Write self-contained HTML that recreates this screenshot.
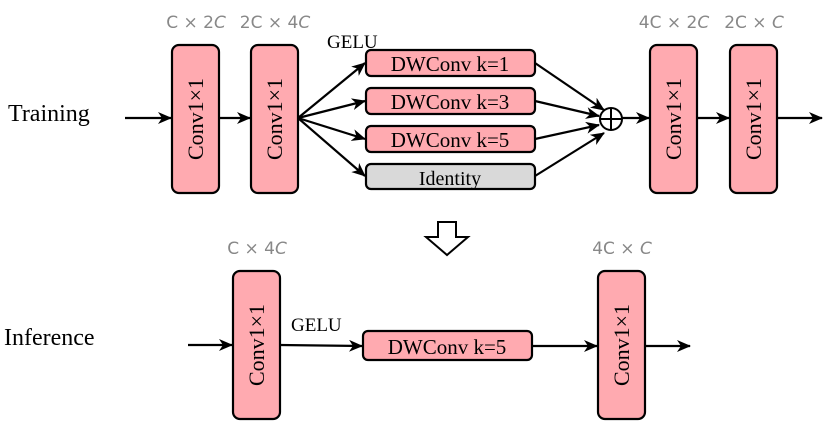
<!DOCTYPE html>
<html><head><meta charset="utf-8"><style>body{margin:0;background:#fff}</style></head><body>
<svg width="829" height="429" xmlns="http://www.w3.org/2000/svg" font-family="Liberation Serif, serif">
<defs><marker id="a" markerWidth="14" markerHeight="12" refX="13" refY="6" orient="auto" markerUnits="userSpaceOnUse"><path d="M0,0 L14,6 L0,12 L4,6 Z" fill="#000"/></marker></defs>
<g stroke="#000" stroke-width="2.2" fill="none" marker-end="url(#a)">
<line x1="125" y1="118" x2="171" y2="118"/>
<line x1="219" y1="118" x2="250" y2="118"/>
<line x1="298" y1="118" x2="365" y2="63"/>
<line x1="298" y1="118" x2="365" y2="101"/>
<line x1="298" y1="118" x2="365" y2="139"/>
<line x1="298" y1="118" x2="365" y2="176"/>
<line x1="535" y1="63" x2="604" y2="110"/>
<line x1="535" y1="101" x2="599" y2="116"/>
<line x1="535" y1="139" x2="599" y2="125"/>
<line x1="535" y1="176" x2="604" y2="133"/>
<line x1="622" y1="118" x2="649" y2="118"/>
<line x1="697" y1="118" x2="729" y2="118"/>
<line x1="777" y1="118" x2="822" y2="118"/>
<line x1="188" y1="345" x2="232" y2="345"/>
<line x1="280" y1="345" x2="362" y2="346"/>
<line x1="532" y1="346" x2="597" y2="346"/>
<line x1="645" y1="346" x2="690" y2="346"/>
</g>
<circle cx="611" cy="119" r="11" fill="#fff" stroke="#000" stroke-width="2"/>
<path d="M600,119 H622 M611,108 V130" stroke="#000" stroke-width="2"/>
<g fill="#ffaab0" stroke="#000" stroke-width="2.2">
<rect x="172" y="45" width="47" height="148" rx="7"/>
<rect x="251" y="45" width="47" height="148" rx="7"/>
<rect x="650" y="45" width="47" height="148" rx="7"/>
<rect x="730" y="45" width="47" height="148" rx="7"/>
<rect x="233" y="271" width="47" height="148" rx="7"/>
<rect x="598" y="271" width="47" height="148" rx="7"/>
<rect x="366" y="50" width="169" height="26" rx="5"/>
<rect x="366" y="88" width="169" height="26" rx="5"/>
<rect x="366" y="126" width="169" height="26" rx="5"/>
<rect x="363" y="331" width="169" height="29" rx="5"/>
</g>
<rect x="366" y="164" width="169" height="25" rx="5" fill="#d9d9d9" stroke="#000" stroke-width="2.2"/>
<path d="M438,222 H456 V237 H468 L447,255 L426,237 H438 Z" fill="#fff" stroke="#000" stroke-width="2"/>
<g font-size="21" text-anchor="middle">
<text x="450" y="71">DWConv k=1</text>
<text x="450" y="109">DWConv k=3</text>
<text x="450" y="147">DWConv k=5</text>
<text x="447" y="354">DWConv k=5</text>
<text x="450" y="185" font-size="20">Identity</text>
</g>
<g font-size="22" text-anchor="middle">
<text transform="translate(203,119) rotate(-90)">Conv1×1</text>
<text transform="translate(282,119) rotate(-90)">Conv1×1</text>
<text transform="translate(681,119) rotate(-90)">Conv1×1</text>
<text transform="translate(761,119) rotate(-90)">Conv1×1</text>
<text transform="translate(264,345) rotate(-90)">Conv1×1</text>
<text transform="translate(629,345) rotate(-90)">Conv1×1</text>
</g>
<g font-size="19">
<text x="327" y="48">GELU</text>
<text x="291" y="331">GELU</text>
</g>
<g font-size="24">
<text x="8" y="121">Training</text>
<text x="4" y="345">Inference</text>
</g>
<g font-size="17" fill="#888" text-anchor="middle" font-family="DejaVu Sans, sans-serif">
<text x="196" y="28">C × 2<tspan font-style="italic">C</tspan></text>
<text x="275" y="28">2C × 4<tspan font-style="italic">C</tspan></text>
<text x="674" y="28">4C × 2<tspan font-style="italic">C</tspan></text>
<text x="754" y="28">2C × <tspan font-style="italic">C</tspan></text>
<text x="257" y="254">C × 4<tspan font-style="italic">C</tspan></text>
<text x="622" y="254">4C × <tspan font-style="italic">C</tspan></text>
</g>
</svg>
</body></html>
